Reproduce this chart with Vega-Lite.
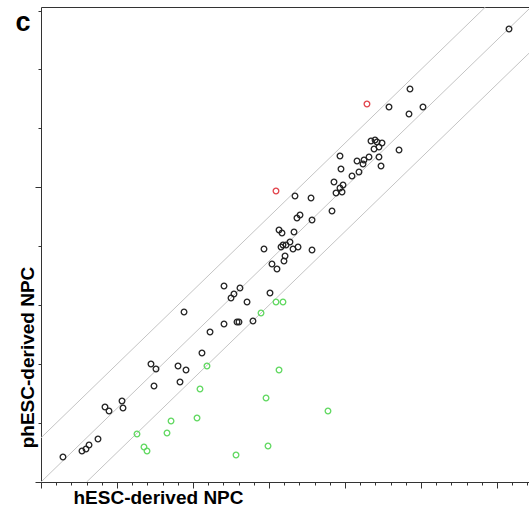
{
  "$schema": "https://vega.github.io/schema/vega-lite/v6.json",
  "width": 488,
  "height": 475,
  "autosize": {"type": "none"},
  "padding": {"left": 41, "top": 7, "right": 0, "bottom": 25},
  "background": "white",
  "config": {
    "view": {"stroke": null},
    "axis": {"domainColor": "#333333", "tickColor": "#333333", "domainWidth": 1, "tickWidth": 1, "grid": false, "labels": false}
  },
  "datasets": {
    "pts": [
      {"x": 6.158, "y": 6.149, "g": "black"},
      {"x": 4.855, "y": 5.335, "g": "black"},
      {"x": 4.579, "y": 5.090, "g": "black"},
      {"x": 4.842, "y": 4.995, "g": "black"},
      {"x": 5.026, "y": 5.090, "g": "black"},
      {"x": 4.342, "y": 4.629, "g": "black"},
      {"x": 4.395, "y": 4.642, "g": "black"},
      {"x": 4.421, "y": 4.615, "g": "black"},
      {"x": 4.487, "y": 4.602, "g": "black"},
      {"x": 4.382, "y": 4.520, "g": "black"},
      {"x": 4.447, "y": 4.547, "g": "black"},
      {"x": 4.447, "y": 4.412, "g": "black"},
      {"x": 4.474, "y": 4.289, "g": "black"},
      {"x": 4.316, "y": 4.412, "g": "black"},
      {"x": 4.250, "y": 4.371, "g": "black"},
      {"x": 4.237, "y": 4.317, "g": "black"},
      {"x": 4.158, "y": 4.357, "g": "black"},
      {"x": 4.184, "y": 4.208, "g": "black"},
      {"x": 4.092, "y": 4.154, "g": "black"},
      {"x": 3.947, "y": 4.249, "g": "black"},
      {"x": 3.934, "y": 4.425, "g": "black"},
      {"x": 3.855, "y": 4.072, "g": "black"},
      {"x": 3.974, "y": 4.032, "g": "black"},
      {"x": 3.934, "y": 3.991, "g": "black"},
      {"x": 3.961, "y": 3.937, "g": "black"},
      {"x": 3.882, "y": 3.923, "g": "black"},
      {"x": 4.711, "y": 4.507, "g": "black"},
      {"x": 3.342, "y": 3.882, "g": "black"},
      {"x": 3.553, "y": 3.855, "g": "black"},
      {"x": 3.829, "y": 3.679, "g": "black"},
      {"x": 3.408, "y": 3.624, "g": "black"},
      {"x": 3.368, "y": 3.584, "g": "black"},
      {"x": 3.566, "y": 3.556, "g": "black"},
      {"x": 3.132, "y": 3.421, "g": "black"},
      {"x": 3.171, "y": 3.380, "g": "black"},
      {"x": 3.329, "y": 3.394, "g": "black"},
      {"x": 2.934, "y": 3.163, "g": "black"},
      {"x": 3.158, "y": 3.190, "g": "black"},
      {"x": 3.184, "y": 3.217, "g": "black"},
      {"x": 3.224, "y": 3.217, "g": "black"},
      {"x": 3.276, "y": 3.258, "g": "black"},
      {"x": 3.316, "y": 3.163, "g": "black"},
      {"x": 3.382, "y": 3.190, "g": "black"},
      {"x": 3.566, "y": 3.149, "g": "black"},
      {"x": 3.211, "y": 3.068, "g": "black"},
      {"x": 3.197, "y": 3.000, "g": "black"},
      {"x": 3.039, "y": 2.959, "g": "black"},
      {"x": 3.105, "y": 2.891, "g": "black"},
      {"x": 2.408, "y": 2.661, "g": "black"},
      {"x": 2.618, "y": 2.633, "g": "black"},
      {"x": 2.539, "y": 2.552, "g": "black"},
      {"x": 2.500, "y": 2.498, "g": "black"},
      {"x": 2.711, "y": 2.443, "g": "black"},
      {"x": 3.013, "y": 2.566, "g": "black"},
      {"x": 1.882, "y": 2.308, "g": "black"},
      {"x": 2.408, "y": 2.145, "g": "black"},
      {"x": 2.579, "y": 2.172, "g": "black"},
      {"x": 2.605, "y": 2.172, "g": "black"},
      {"x": 2.789, "y": 2.185, "g": "black"},
      {"x": 2.224, "y": 2.036, "g": "black"},
      {"x": 2.118, "y": 1.751, "g": "black"},
      {"x": 1.447, "y": 1.602, "g": "black"},
      {"x": 1.513, "y": 1.534, "g": "black"},
      {"x": 1.803, "y": 1.575, "g": "black"},
      {"x": 1.908, "y": 1.520, "g": "black"},
      {"x": 1.829, "y": 1.357, "g": "black"},
      {"x": 1.487, "y": 1.303, "g": "black"},
      {"x": 1.066, "y": 1.100, "g": "black"},
      {"x": 1.079, "y": 1.004, "g": "black"},
      {"x": 0.842, "y": 1.018, "g": "black"},
      {"x": 0.895, "y": 0.964, "g": "black"},
      {"x": 0.750, "y": 0.584, "g": "black"},
      {"x": 0.632, "y": 0.502, "g": "black"},
      {"x": 0.592, "y": 0.448, "g": "black"},
      {"x": 0.539, "y": 0.421, "g": "black"},
      {"x": 0.289, "y": 0.339, "g": "black"},
      {"x": 4.289, "y": 5.131, "g": "red"},
      {"x": 3.092, "y": 3.950, "g": "red"},
      {"x": 3.092, "y": 2.443, "g": "green"},
      {"x": 3.184, "y": 2.443, "g": "green"},
      {"x": 2.895, "y": 2.294, "g": "green"},
      {"x": 2.184, "y": 1.575, "g": "green"},
      {"x": 3.132, "y": 1.520, "g": "green"},
      {"x": 2.092, "y": 1.262, "g": "green"},
      {"x": 2.961, "y": 1.140, "g": "green"},
      {"x": 2.053, "y": 0.869, "g": "green"},
      {"x": 1.711, "y": 0.828, "g": "green"},
      {"x": 3.776, "y": 0.964, "g": "green"},
      {"x": 1.658, "y": 0.665, "g": "green"},
      {"x": 1.263, "y": 0.652, "g": "green"},
      {"x": 1.355, "y": 0.475, "g": "green"},
      {"x": 1.395, "y": 0.421, "g": "green"},
      {"x": 2.987, "y": 0.489, "g": "green"},
      {"x": 2.566, "y": 0.367, "g": "green"}
    ],
    "lines": [
      {"x": 0, "y": 0.6, "line": "upper"},
      {"x": 5.85, "y": 6.45, "line": "upper"},
      {"x": 0, "y": 0, "line": "middle"},
      {"x": 6.45, "y": 6.45, "line": "middle"},
      {"x": 0.6, "y": 0, "line": "lower"},
      {"x": 6.45, "y": 5.85, "line": "lower"}
    ]
  },
  "layer": [
    {
      "data": {"name": "lines"},
      "mark": {"type": "line", "color": "#c4c4c4", "strokeWidth": 1, "clip": true},
      "encoding": {
        "x": {"field": "x", "type": "quantitative", "scale": {"domain": [0, 6.421], "nice": false, "zero": false},
          "axis": {"orient": "bottom", "title": "hESC-derived NPC", "titleFont": "Liberation Sans", "titleFontSize": 19, "titleFontWeight": "bold", "titleColor": "black",
            "titleAnchor": null, "titleAlign": "center", "titleBaseline": "alphabetic", "titleX": 117, "titleY": 21,
            "values": [0,0.2,0.4,0.6,0.8,1,1.2,1.4,1.6,1.8,2,2.2,2.4,2.6,2.8,3,3.2,3.4,3.6,3.8,4,4.2,4.4,4.6,4.8,5,5.2,5.4,5.6,5.8,6,6.2,6.4],
            "tickSize": {"condition": {"test": "abs(datum.value - round(datum.value)) < 0.01", "value": 6}, "value": 3}}},
        "y": {"field": "y", "type": "quantitative", "scale": {"domain": [0, 6.448], "nice": false, "zero": false},
          "axis": {"orient": "left", "title": "phESC-derived NPC", "titleFont": "Liberation Sans", "titleFontSize": 19, "titleFontWeight": "bold", "titleColor": "black",
            "titleAnchor": null, "titleAlign": "center", "titleBaseline": "alphabetic", "titleAngle": -90, "titleX": -8, "titleY": 350,
            "values": [0,0.2,0.4,0.6,0.8,1,1.2,1.4,1.6,1.8,2,2.2,2.4,2.6,2.8,3,3.2,3.4,3.6,3.8,4,4.2,4.4,4.6,4.8,5,5.2,5.4,5.6,5.8,6,6.2,6.4],
            "tickSize": {"condition": {"test": "abs(datum.value - round(datum.value)) < 0.01", "value": 6}, "value": 3}}},
        "detail": {"field": "line", "type": "nominal"}
      }
    },
    {
      "data": {"name": "pts"},
      "mark": {"type": "point", "shape": "circle", "filled": false, "size": 32, "strokeWidth": 1.3, "opacity": 1},
      "encoding": {
        "x": {"field": "x", "type": "quantitative", "axis": {"orient": "top", "title": "c", "ticks": false, "labels": false, "domain": true,
          "titleFont": "Liberation Sans", "titleFontSize": 27, "titleFontWeight": "bold", "titleColor": "black",
          "titleAnchor": null, "titleAlign": "left", "titleBaseline": "alphabetic", "titleX": -26, "titleY": 23}},
        "y": {"field": "y", "type": "quantitative"},
        "color": {"field": "g", "type": "nominal", "scale": {"domain": ["black", "red", "green"], "range": ["#222222", "#e2434b", "#5fd85f"]}, "legend": null}
      }
    }
  ],
  "resolve": {"axis": {"x": "independent"}}
}
